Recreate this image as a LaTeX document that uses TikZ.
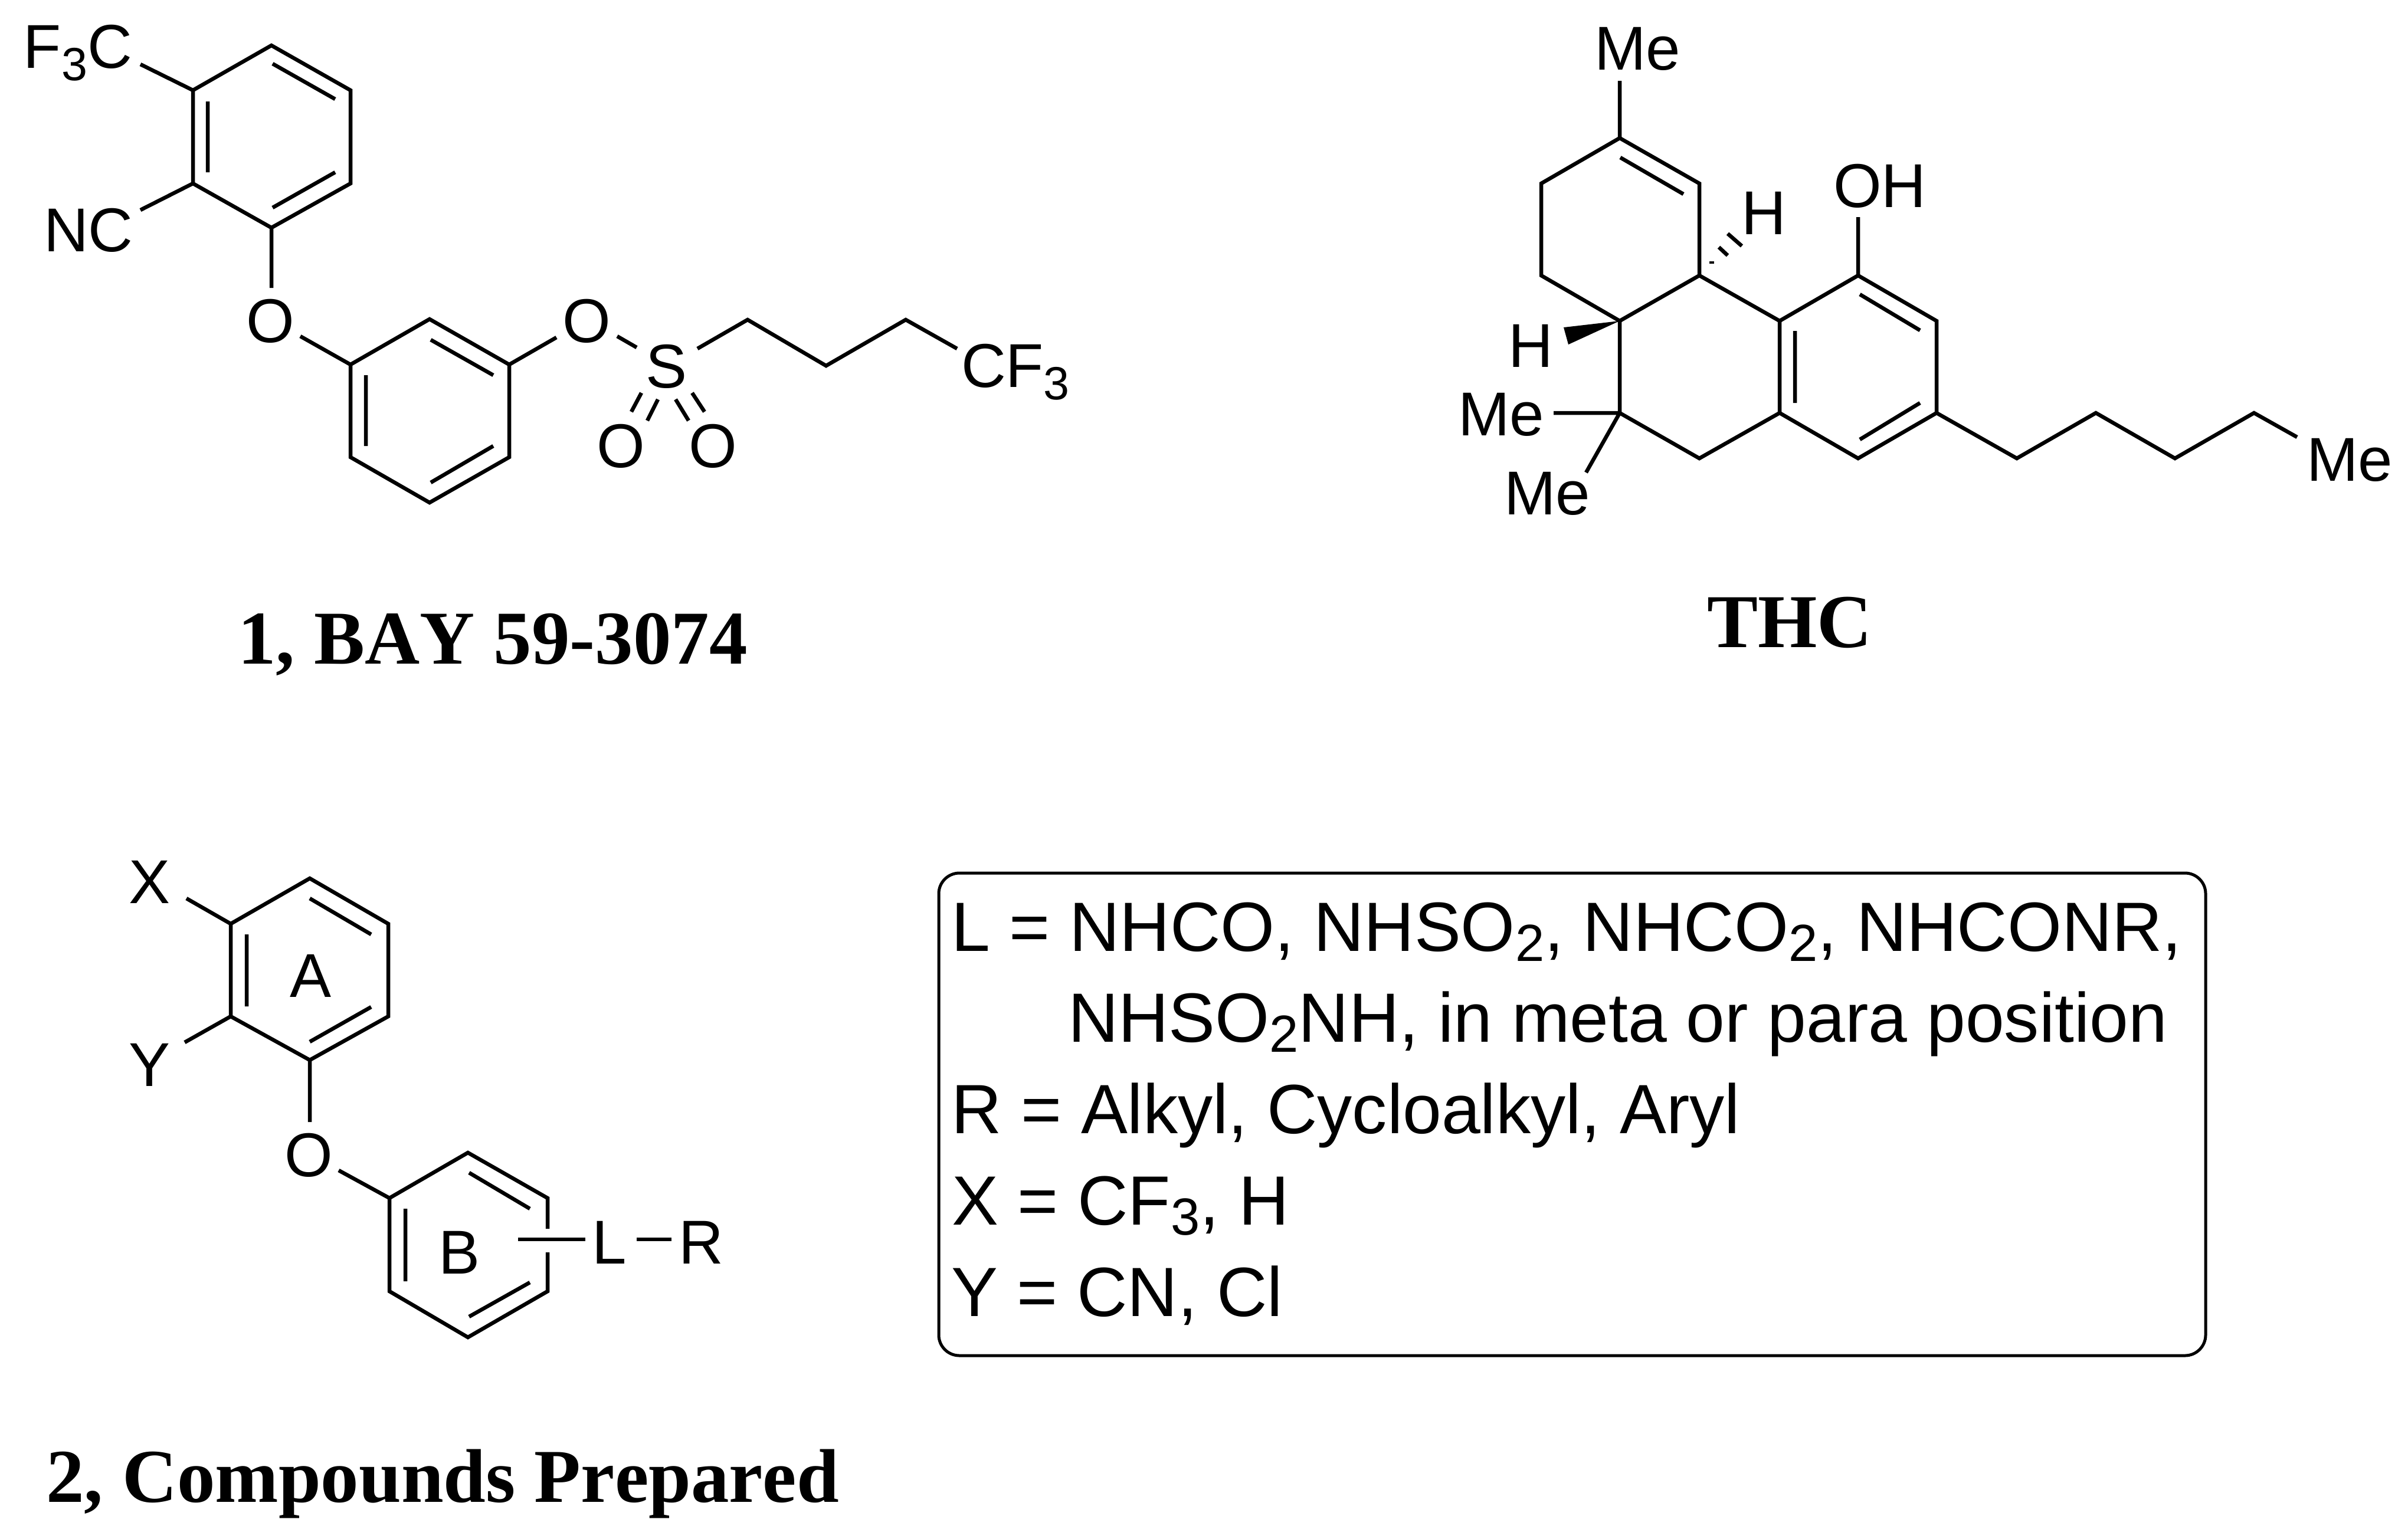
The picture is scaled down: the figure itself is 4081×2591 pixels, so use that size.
\documentclass[tikz,border=0pt]{standalone}
\usepackage{fontspec}
\setmainfont{Liberation Sans}
\newfontfamily\capfont{Liberation Serif}[BoldFont={Liberation Serif Bold},BoldFeatures={Kerning=Off}]
\newcommand{\lsub}[1]{\raisebox{-4.2pt}{\fontsize{15.8pt}{15.8pt}\selectfont #1}}
\newcommand{\bsub}[1]{\raisebox{-3.5pt}{\fontsize{17.7pt}{17.7pt}\selectfont #1}}
\tikzset{
  bond/.style={line width=1.3pt,line cap=butt,line join=miter,black},
  lab/.style={inner sep=0pt,outer sep=0pt,font=\fontsize{21pt}{21pt}\selectfont,text=black},
  labw/.style={lab,anchor=base west},
  labc/.style={lab,anchor=base},
  captxt/.style={inner sep=0pt,outer sep=0pt,anchor=base west,font=\capfont\bfseries\fontsize{25.8pt}{25.8pt}\selectfont},
  boxtxt/.style={inner sep=0pt,outer sep=0pt,anchor=base west,font=\fontsize{23.65pt}{23.65pt}\selectfont},
  legend/.style={draw=black,line width=1pt,rounded corners=7pt,inner sep=0pt,minimum width=429.4pt,minimum height=163.6pt}
}
\begin{document}
\begin{tikzpicture}[x=0.2pt,y=-0.2pt]
\useasboundingbox (0,0) rectangle (4081,2591);
% ---------- compound 1 ----------
\foreach \n/\x/\y in {
 a1/460/77,a2/594/153,a3/594/311,a4/460/386,a5/327/311,a6/327/153,
 ai1/462/108,ai2/568/168,ai3/568/292,ai4/462/352,ai5/352/292,ai6/352/172,
 cfe/238/109,nce/238/356,ooe/460/488,
 ob1/509/570,b1/594/618,b2/728/541,b3/863/618,b4/863/775,b5/728/852,b6/594/775,
 bi1/730/576,bi2/836/636,bi3/836/756,bi4/730/818,bi5/620/756,bi6/620/636,
 oo2/943/572,os1/1046/570,os2/1079/589,sc/1182/591,c1/1267/542,c2/1400/620,c3/1535/542,c4/1622/591,
 sl1a/1087/666,sl1b/1070/698,sl2a/1115/677,sl2b/1097/713,sr1a/1145/677,sr1b/1167/713,sr2a/1173/666,sr2b/1194/698}
 {\coordinate (\n) at (\x,\y);}
\draw[bond] (a1)--(a2)--(a3)--(a4)--(a5)--(a6)--cycle;
\draw[bond] (ai1)--(ai2) (ai3)--(ai4) (ai5)--(ai6);
\draw[bond] (a6)--(cfe) (a5)--(nce) (a4)--(ooe) (ob1)--(b1);
\draw[bond] (b1)--(b2)--(b3)--(b4)--(b5)--(b6)--cycle;
\draw[bond] (bi1)--(bi2) (bi3)--(bi4) (bi5)--(bi6);
\draw[bond] (b3)--(oo2) (os1)--(os2) (sc)--(c1)--(c2)--(c3)--(c4);
\draw[bond] (sl1a)--(sl1b) (sl2a)--(sl2b) (sr1a)--(sr1b) (sr2a)--(sr2b);
\node[labw] (f3c) at (40,115) {F\lsub{3}C};
\node[labw] (nc) at (74,426) {NC};
\node[labc] (o1) at (458,580) {O};
\node[labc] (o2) at (994,580) {O};
\node[labc] (s1) at (1130,657) {S};
\node[labc] (o3) at (1052,792) {O};
\node[labc] (o4) at (1208,792) {O};
\node[labw] (cf3) at (1629,656) {CF\lsub{3}};
\node[captxt] (cap1) at (403,1125) {1, BAY 59-3074};
% ---------- THC ----------
\foreach \n/\x/\y in {
 ta/2745/234,tb/2880/311,tc/2880/467,td/2745/544,te/2612/467,tf/2612/311,
 tai/2746/267,tbi/2853/329,tme/2745/137,
 tg/2745/700,th/2880/777,ti/3016/700,tj/3016/544,
 tk/3149/467,tl/3282/544,tm/3282/700,tn/3149/777,
 tk1/3152/499,tl1/3254/560,tj1/3042/561,ti1/3042/683,tn1/3152/745,tm1/3254/683,
 toh/3149/368,
 h1a/2901/443,h1b/2901/447,h2a/2913/419,h2b/2928/433,h3a/2928/396,h3b/2952/417,
 w1/2650/555,w2/2658/584,
 tml/2633/700,tmd/2688/801,
 p1/3418/777,p2/3552/700,p3/3686/777,p4/3820/700,p5/3893/741}
 {\coordinate (\n) at (\x,\y);}
\draw[bond] (ta)--(tb)--(tc)--(td)--(te)--(tf)--cycle;
\draw[bond] (tai)--(tbi) (ta)--(tme);
\draw[bond] (td)--(tg)--(th)--(ti)--(tj)--(tc);
\draw[bond] (tj)--(tk)--(tl)--(tm)--(tn)--(ti);
\draw[bond] (tk1)--(tl1) (tj1)--(ti1) (tn1)--(tm1) (tk)--(toh);
\draw[bond] (tg)--(tml) (tg)--(tmd);
\draw[bond] (tm)--(p1)--(p2)--(p3)--(p4)--(p5);
\draw[bond,line width=1.6pt] (h1a)--(h1b);
\draw[bond] (h2a)--(h2b) (h3a)--(h3b);
\fill[black] (td)--(w1)--(w2)--cycle;
\node[labw] (me1) at (2702,118) {Me};
\node[labw] (oh) at (3107,351) {OH};
\node[labw] (h1) at (2951,397) {H};
\node[labw] (h2) at (2556,622) {H};
\node[labw] (me2) at (2471,738) {Me};
\node[labw] (me3) at (2549,872) {Me};
\node[labw] (me4) at (3909,815) {Me};
\node[captxt] (cap2) at (2893,1097) {THC};
% ---------- compound 2 ----------
\foreach \n/\x/\y in {
 ra/525/1489,rb/658/1566,rc/658/1723,rd/525/1797,re/391/1723,rf/391/1566,
 ra1/525/1523,rb1/629/1584,rf1/418/1584,re1/418/1706,rd1/525/1766,rc1/629/1707,
 xe/316/1523,ye/313/1767,ooe2/525/1902,
 ob2/574/1984,sa/660/2031,sb/793/1954,sc2/928/2031,sd1/928/2083,sd2/928/2123,sd/928/2189,se/793/2267,sf/660/2189,
 sb1/795/1988,sc1/898/2049,sa1/687/2049,sf1/687/2172,se1/795/2232,sd3/898/2174,
 ll1/878/2101,ll2/992/2101,lr1/1079/2101,lr2/1138/2101}
 {\coordinate (\n) at (\x,\y);}
\draw[bond] (ra)--(rb)--(rc)--(rd)--(re)--(rf)--cycle;
\draw[bond] (ra1)--(rb1) (rf1)--(re1) (rd1)--(rc1);
\draw[bond] (rf)--(xe) (re)--(ye) (rd)--(ooe2) (ob2)--(sa);
\draw[bond] (sd1)--(sc2)--(sb)--(sa)--(sf)--(se)--(sd)--(sd2);
\draw[bond] (sb1)--(sc1) (sa1)--(sf1) (se1)--(sd3);
\draw[bond] (ll1)--(ll2) (lr1)--(lr2);
\node[labc] (xl) at (254,1531) {X};
\node[labc] (yl) at (254,1841) {Y};
\node[labc] (al) at (527,1690) {A};
\node[labc] (o5) at (523,1994) {O};
\node[labc] (bl) at (779,2159) {B};
\node[labw] (ll) at (1003,2142) {L};
\node[labw] (rl) at (1150,2142) {R};
\node[captxt] (cap3) at (78,2546) {2, Compounds Prepared};
% ---------- legend ----------
\node[legend] (box) at (2664.5,1889) {};
\node[boxtxt] (t1) at (1612,1612) {L = NHCO, NHSO\bsub{2}, NHCO\bsub{2}, NHCONR,};
\node[boxtxt] (t2) at (1810,1766) {NHSO\bsub{2}NH, in meta or para position};
\node[boxtxt] (t3) at (1612,1921) {R = Alkyl, Cycloalkyl, Aryl};
\node[boxtxt] (t4) at (1613,2076) {X = CF\bsub{3}, H};
\node[boxtxt] (t5) at (1612,2231) {Y = CN, Cl};
\end{tikzpicture}
\end{document}
